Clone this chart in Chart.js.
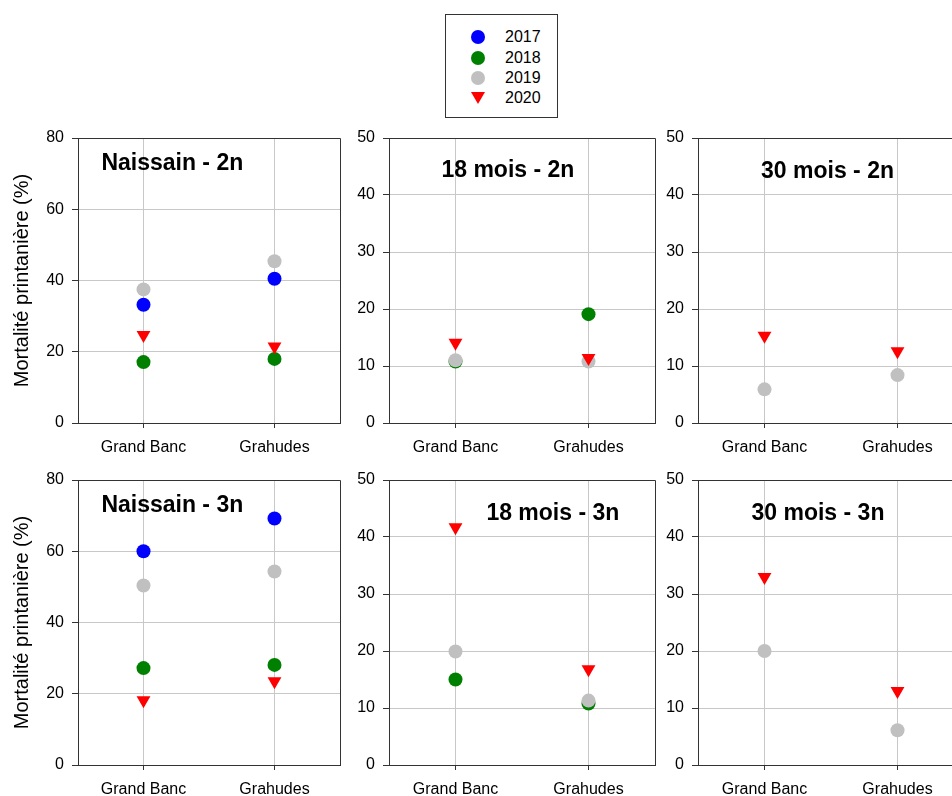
<!DOCTYPE html>
<html>
<head>
<meta charset="utf-8">
<title>Mortalité printanière</title>
<script src="https://cdn.jsdelivr.net/npm/chart.js@4/dist/chart.umd.min.js"></script>
<style>
  html, body { margin: 0; padding: 0; background: #fff; overflow: hidden; width: 952px; height: 796px; }
  body { position: relative; font-family: "Liberation Sans", Arial, sans-serif; }
  canvas { position: absolute; }
  #legend { position: absolute; left: 445px; top: 14px; width: 113px; height: 104px;
            border: 1px solid #333; box-sizing: border-box; }
  #legend .mark { position: absolute; }
  #legend .txt { position: absolute; left: 59px; font-size: 16px; line-height: 20px; color: #000; }
</style>
</head>
<body>
<div id="legend"></div>
<script>
// Sites and sampling years
const sites = ['Grand Banc', 'Grahudes'];
const years = ['2017', '2018', '2019', '2020'];
const yearColors = ['#0000ff', '#008000', '#c0c0c0', '#ff0000'];
const yearShapes = ['circle', 'circle', 'circle', 'triangle'];

// Spring mortality (%) — one row per year (2017..2020), values for [Grand Banc, Grahudes]
const naissain2n = [[33.2, 40.5], [17.1, 18.0], [37.5, 45.4], [24.7, 21.5]];
const mois18_2n  = [[null, null], [10.8, 19.1], [11.0, 10.8], [14.1, 11.4]];
const mois30_2n  = [[null, null], [null, null], [5.9, 8.4],   [15.3, 12.6]];
const naissain3n = [[60.0, 69.2], [27.2, 28.1], [50.4, 54.3], [18.2, 23.5]];
const mois18_3n  = [[null, null], [15.0, 10.8], [19.9, 11.3], [41.7, 16.8]];
const mois30_3n  = [[null, null], [null, null], [20.0, 6.1],  [33.0, 13.0]];

const panelData = [naissain2n, mois18_2n, mois30_2n, naissain3n, mois18_3n, mois30_3n];
const panelTitles = ['Naissain - 2n', '18 mois - 2n', '30 mois - 2n',
                     'Naissain - 3n', '18 mois - 3n', '30 mois - 3n'];
const yMax  = [80, 50, 50, 80, 50, 50];
const yStep = [20, 10, 10, 20, 10, 10];
const yAxisTitle = 'Mortalité printanière (%)';

// Page layout of the 3 x 2 grid of plots
const colLeft  = [78, 389, 698];
const colWidth = [262, 266, 266];
const rowTop   = [138, 480];
const plotHeight = 285;
const AXIS_W = 78, AXIS_H = 40, PAD_TOP = 14, PAD_RIGHT = 5;
// Panel title: horizontal centre (fraction of plot width), baseline offset from plot top
const titlePos = [[0.36, 32], [0.447, 39], [0.487, 40], [0.36, 32], [0.616, 40], [0.451, 40]];

const FONT = '"Liberation Sans", Arial, sans-serif';
const AXIS_COLOR = '#333';
const GRID_COLOR = '#c8c8c8';

const alignPx = v => Math.floor(v) + 0.5;

// Closes the box (top and right edges) and writes the panel heading inside the plot
const panelFrame = {
  id: 'panelFrame',
  afterDraw(chart, args, opts) {
    const { ctx, chartArea: a } = chart;
    ctx.save();
    ctx.strokeStyle = AXIS_COLOR;
    ctx.lineWidth = 1;
    ctx.beginPath();
    ctx.moveTo(a.left, alignPx(a.top));
    ctx.lineTo(alignPx(a.right), alignPx(a.top));
    ctx.lineTo(alignPx(a.right), a.bottom);
    ctx.stroke();
    ctx.fillStyle = '#000';
    ctx.font = 'bold 23px ' + FONT;
    ctx.textAlign = 'center';
    ctx.textBaseline = 'alphabetic';
    ctx.fillText(opts.text, a.left + opts.fx * (a.right - a.left), a.top + opts.dy);
    ctx.restore();
  }
};

// Fixed axis sizes so every plot area lands at the same place
const fixAxis = (s) => {
  if (s.isHorizontal()) { s.height = AXIS_H; } else { s.width = AXIS_W; }
  s.paddingTop = 0; s.paddingBottom = 0; s.paddingLeft = 0; s.paddingRight = 0;
};

panelData.forEach((vals, i) => {
  const col = i % 3, row = Math.floor(i / 3);
  const w = AXIS_W + colWidth[col] + PAD_RIGHT;
  const h = PAD_TOP + plotHeight + AXIS_H;
  const cv = document.createElement('canvas');
  cv.width = w; cv.height = h;
  cv.style.width = w + 'px'; cv.style.height = h + 'px';
  cv.style.left = (colLeft[col] - AXIS_W) + 'px';
  cv.style.top = (rowTop[row] - PAD_TOP) + 'px';
  document.body.appendChild(cv);

  new Chart(cv, {
    type: 'line',
    data: {
      labels: sites,
      datasets: years.map((y, k) => ({
        label: y,
        data: vals[k],
        showLine: false,
        pointStyle: yearShapes[k],
        pointRadius: yearShapes[k] === 'triangle' ? 8 : 7,
        pointRotation: yearShapes[k] === 'triangle' ? 180 : 0,
        pointBackgroundColor: yearColors[k],
        backgroundColor: yearColors[k],
        borderColor: yearColors[k],
        pointBorderWidth: 0,
        order: years.length - 1 - k
      }))
    },
    options: {
      responsive: false,
      animation: false,
      events: [],
      layout: { autoPadding: false, padding: { left: 0, top: PAD_TOP, right: PAD_RIGHT, bottom: 0 } },
      plugins: {
        legend: { display: false },
        tooltip: { enabled: false },
        panelFrame: { text: panelTitles[i], fx: titlePos[i][0], dy: titlePos[i][1] }
      },
      scales: {
        x: {
          type: 'category',
          offset: true,
          grid: { offset: false, color: GRID_COLOR, tickColor: AXIS_COLOR, tickLength: 5 },
          border: { color: AXIS_COLOR, width: 1 },
          ticks: { color: '#000', font: { family: FONT, size: 16 }, padding: 10, maxRotation: 0 },
          afterFit: fixAxis
        },
        y: {
          min: 0,
          max: yMax[i],
          ticks: { stepSize: yStep[i], color: '#000', font: { family: FONT, size: 16 }, padding: 8 },
          grid: { color: GRID_COLOR, tickColor: AXIS_COLOR, tickLength: 6 },
          border: { color: AXIS_COLOR, width: 1 },
          title: {
            display: col === 0,
            text: yAxisTitle,
            color: '#000',
            font: { family: FONT, size: 20 },
            padding: { top: 10, bottom: 0 }
          },
          afterFit: fixAxis
        }
      }
    },
    plugins: [panelFrame]
  });
});

// Shared legend box
const legend = document.getElementById('legend');
const legendRowY = [22, 43, 63, 83];
const markX = 31.5;
years.forEach((y, k) => {
  const m = document.createElement('div');
  m.className = 'mark';
  const cy = legendRowY[k];
  if (yearShapes[k] === 'triangle') {
    m.style.width = '0'; m.style.height = '0';
    m.style.borderLeft = '7px solid transparent';
    m.style.borderRight = '7px solid transparent';
    m.style.borderTop = '12px solid ' + yearColors[k];
    m.style.left = (markX - 7) + 'px';
    m.style.top = (cy - 6) + 'px';
  } else {
    m.style.width = '14px'; m.style.height = '14px';
    m.style.borderRadius = '50%';
    m.style.background = yearColors[k];
    m.style.left = (markX - 7) + 'px';
    m.style.top = (cy - 7) + 'px';
  }
  legend.appendChild(m);
  const t = document.createElement('div');
  t.className = 'txt';
  t.textContent = y;
  t.style.top = (cy - 10) + 'px';
  legend.appendChild(t);
});
</script>
</body>
</html>
